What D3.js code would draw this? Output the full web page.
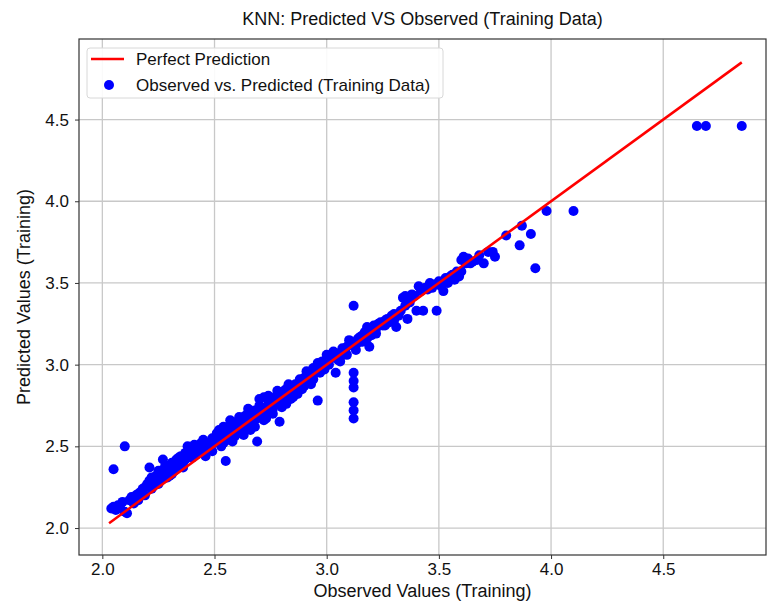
<!DOCTYPE html>
<html>
<head>
<meta charset="utf-8">
<script src="https://cdn.jsdelivr.net/npm/d3@7"></script>
<style>
  body { margin: 0; background: #fff; }
  svg { display: block; font-family: "Liberation Sans", Arial, sans-serif; }
</style>
</head>
<body>
<svg id="chart" width="770" height="602"></svg>
<script>
// ---- data ----
const observed = [
  2.04,2.05,2.10,2.05,2.06,2.07,2.08,2.09,2.10,2.11,2.12,2.13,2.14,2.15,2.16,2.17,2.18,2.19,2.20,2.21,
  2.21,2.22,2.23,2.24,2.25,2.26,2.27,2.27,2.28,2.29,2.30,2.31,2.32,2.33,2.34,2.35,2.36,2.37,2.38,2.39,
  2.40,2.41,2.42,2.43,2.44,2.45,2.46,2.47,2.48,2.49,2.50,2.23,2.19,2.16,2.29,2.33,2.36,2.40,2.43,2.47,
  2.51,2.52,2.53,2.54,2.55,2.55,2.56,2.57,2.58,2.59,2.60,2.61,2.62,2.63,2.64,2.64,2.65,2.66,2.67,2.68,
  2.69,2.69,2.70,2.71,2.72,2.72,2.73,2.74,2.75,2.76,2.77,2.78,2.79,2.79,2.80,2.81,2.82,2.83,2.84,2.85,
  2.86,2.87,2.88,2.89,2.90,2.91,2.92,2.93,2.94,2.95,2.96,2.96,2.97,2.98,3.00,2.99,2.60,2.66,2.70,2.74,
  2.76,2.80,2.84,2.88,2.57,2.62,2.67,2.71,2.75,2.78,2.82,2.86,2.90,2.53,2.59,2.63,
  3.02,3.04,3.04,3.06,3.07,3.08,3.10,3.10,3.12,3.12,3.12,3.12,3.12,3.12,3.12,3.13,3.14,3.15,3.16,3.17,
  3.18,3.19,3.20,3.21,3.22,3.23,3.24,3.25,3.26,3.27,3.28,3.29,3.30,3.31,3.30,3.32,3.34,3.35,3.36,3.38,
  3.40,3.41,3.42,3.43,3.44,3.46,3.48,3.49,3.50,3.52,3.53,3.54,3.55,3.57,3.58,3.59,3.60,3.61,3.62,3.63,
  3.65,3.67,3.70,3.72,3.74,3.75,3.80,3.87,3.91,3.86,3.93,3.98,4.10,4.65,4.69,4.85,3.05,3.09,3.15,3.20,
  3.35,3.37,3.45,3.56,
  2.22,2.25,2.28,2.31,2.34,2.37,2.41,2.44,2.46,2.49,2.52,2.54,2.57,2.58,2.61,2.63,2.65,2.66,2.68,2.70,
  2.73,2.74,2.76,2.78,2.80,2.82,2.83,2.85,2.87,2.89,2.91,2.93,2.94,2.97,3.01,3.03,3.06,3.09,3.11,3.13,
  3.16,3.18,3.22,3.26,3.33,3.39,3.47,3.51,3.60,3.64,3.68
];
const predicted = [
  2.12,2.36,2.50,2.13,2.11,2.14,2.12,2.16,2.10,2.09,2.17,2.19,2.15,2.20,2.17,2.22,2.24,2.20,2.27,2.29,
  2.37,2.24,2.30,2.32,2.27,2.35,2.30,2.42,2.34,2.38,2.32,2.40,2.35,2.42,2.38,2.44,2.40,2.42,2.50,2.45,
  2.43,2.47,2.45,2.49,2.47,2.54,2.50,2.52,2.49,2.55,2.52,2.26,2.25,2.21,2.31,2.36,2.37,2.46,2.46,2.48,
  2.58,2.55,2.50,2.62,2.41,2.57,2.54,2.63,2.60,2.56,2.65,2.62,2.58,2.68,2.66,2.69,2.62,2.70,2.64,2.72,
  2.53,2.67,2.75,2.69,2.80,2.66,2.74,2.71,2.78,2.73,2.80,2.76,2.65,2.82,2.78,2.84,2.80,2.83,2.79,2.86,
  2.84,2.88,2.85,2.90,2.87,2.91,2.89,2.93,2.91,2.96,2.78,3.01,2.95,3.02,3.06,2.97,2.58,2.64,2.68,2.76,
  2.79,2.81,2.81,2.91,2.59,2.64,2.70,2.72,2.74,2.79,2.85,2.88,2.92,2.56,2.62,2.60,
  3.04,2.95,3.07,3.05,3.10,3.08,3.15,3.12,3.36,2.95,2.90,2.86,2.77,2.72,2.67,3.12,3.16,3.14,3.18,3.20,
  3.23,3.11,3.21,3.24,3.22,3.25,3.26,3.24,3.27,3.28,3.26,3.30,3.31,3.23,3.27,3.30,3.41,3.42,3.28,3.43,
  3.33,3.48,3.45,3.33,3.47,3.50,3.49,3.33,3.51,3.45,3.53,3.50,3.54,3.52,3.57,3.54,3.64,3.66,3.62,3.65,
  3.63,3.64,3.62,3.69,3.69,3.66,3.79,3.85,3.80,3.73,3.59,3.94,3.94,4.46,4.46,4.46,3.03,3.11,3.17,3.18,
  3.36,3.38,3.46,3.55,
  2.31,2.35,2.38,2.33,2.43,2.46,2.51,2.52,2.44,2.47,2.60,2.52,2.66,2.53,2.68,2.57,2.73,2.60,2.62,2.79,
  2.67,2.81,2.70,2.84,2.74,2.76,2.88,2.80,2.82,2.85,2.96,2.88,2.98,3.00,3.00,3.08,3.02,3.06,3.14,3.09,
  3.14,3.16,3.19,3.24,3.33,3.42,3.47,3.48,3.57,3.62,3.67
];
const perfectLine = [2.03, 4.85];
const xTicks = [2.0, 2.5, 3.0, 3.5, 4.0, 4.5];
const yTicks = [2.0, 2.5, 3.0, 3.5, 4.0, 4.5];
const titleText = "KNN: Predicted VS Observed (Training Data)";
const xLabel = "Observed Values (Training)";
const yLabel = "Predicted Values (Training)";
const legendLabels = ["Perfect Prediction", "Observed vs. Predicted (Training Data)"];

// ---- layout ----
const svg = d3.select("#chart");
const L = 79, R = 766, T = 39, B = 555;
const x = d3.scaleLinear().domain([1.896, 4.958]).range([L, R]);
const y = d3.scaleLinear().domain([1.835, 4.993]).range([B, T]);

// grid
const grid = svg.append("g");
grid.selectAll(".vx").data(xTicks).join("line")
  .attr("x1", d => x(d)).attr("x2", d => x(d)).attr("y1", T).attr("y2", B)
  .attr("stroke", "#c8c8c8").attr("stroke-width", 1.3);
grid.selectAll(".hy").data(yTicks).join("line")
  .attr("y1", d => y(d)).attr("y2", d => y(d)).attr("x1", L).attr("x2", R)
  .attr("stroke", "#c8c8c8").attr("stroke-width", 1.3);

// points
const pts = observed.map((o, i) => [o, predicted[i]]);
svg.append("g").selectAll("circle").data(pts).join("circle")
  .attr("cx", d => x(d[0])).attr("cy", d => y(d[1])).attr("r", 5)
  .attr("fill", "#0000ff");

// perfect line
svg.append("line")
  .attr("x1", x(perfectLine[0])).attr("y1", y(perfectLine[0]))
  .attr("x2", x(perfectLine[1])).attr("y2", y(perfectLine[1]))
  .attr("stroke", "#ff0000").attr("stroke-width", 2.5);

// axes
const xAxis = d3.axisBottom(x).tickValues(xTicks).tickFormat(d3.format(".1f")).tickSize(4).tickPadding(4);
const yAxis = d3.axisLeft(y).tickValues(yTicks).tickFormat(d3.format(".1f")).tickSize(4).tickPadding(6);
const gx = svg.append("g").attr("transform", `translate(0,${B})`).call(xAxis);
const gy = svg.append("g").attr("transform", `translate(${L},0)`).call(yAxis);
[gx, gy].forEach(g => {
  g.select(".domain").remove();
  g.selectAll(".tick line").attr("stroke", "#333").attr("stroke-width", 1);
  g.selectAll(".tick text").attr("fill", "#111").style("font-size", "17px")
    .style("font-family", "'Liberation Sans', Arial, sans-serif");
});

// frame
svg.append("rect").attr("x", L).attr("y", T).attr("width", R - L).attr("height", B - T)
  .attr("fill", "none").attr("stroke", "#333").attr("stroke-width", 1.2);

// title & labels
svg.append("text").attr("x", (L + R) / 2).attr("y", 25).attr("text-anchor", "middle")
  .style("font-size", "18px").attr("fill", "#111").text(titleText);
svg.append("text").attr("x", (L + R) / 2).attr("y", 597).attr("text-anchor", "middle")
  .style("font-size", "18px").attr("fill", "#111").text(xLabel);
svg.append("text").attr("transform", `translate(30,${(T + B) / 2}) rotate(-90)`)
  .attr("text-anchor", "middle").style("font-size", "18px").attr("fill", "#111").text(yLabel);

// legend
const lg = svg.append("g");
lg.append("rect").attr("x", 87).attr("y", 48).attr("width", 356).attr("height", 50)
  .attr("rx", 3).attr("fill", "#fff").attr("fill-opacity", 0.9)
  .attr("stroke", "#d8d8d8").attr("stroke-width", 1);
lg.append("line").attr("x1", 91).attr("x2", 124).attr("y1", 59).attr("y2", 59)
  .attr("stroke", "#ff0000").attr("stroke-width", 2.5);
lg.append("circle").attr("cx", 109).attr("cy", 85).attr("r", 5).attr("fill", "#0000ff");
lg.selectAll("text").data(legendLabels).join("text")
  .attr("x", 136).attr("y", (d, i) => 65 + i * 26)
  .style("font-size", "17px").attr("fill", "#111").text(d => d);
</script>
</body>
</html>
